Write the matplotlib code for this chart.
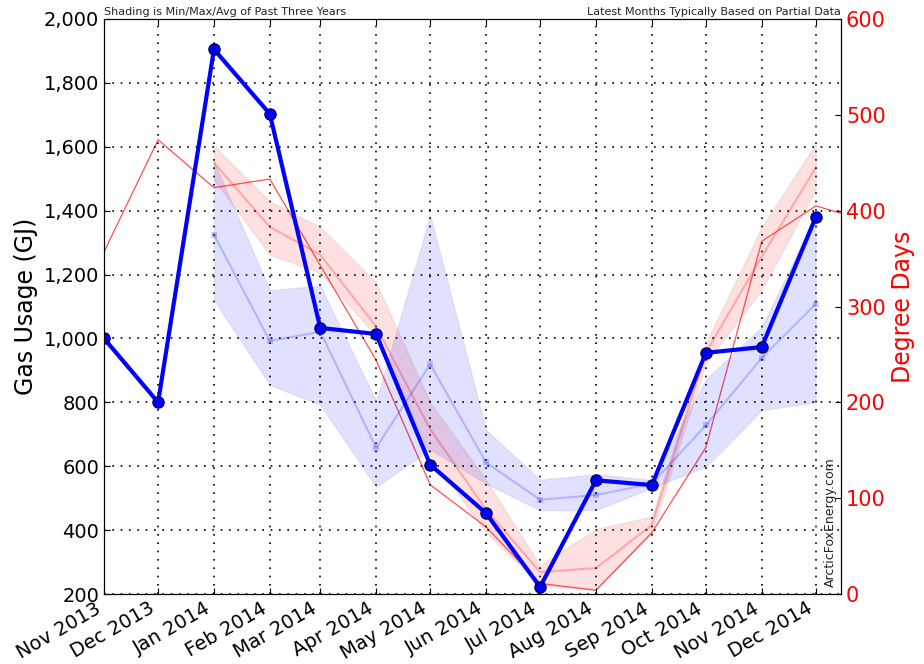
import datetime as dt

import matplotlib
matplotlib.use("Agg")
import matplotlib.pyplot as plt
import matplotlib.dates as mdates
from matplotlib.ticker import FuncFormatter, MultipleLocator

# --------------------------------------------------
# Data
# --------------------------------------------------
month_labels = ["Nov 2013", "Dec 2013", "Jan 2014", "Feb 2014", "Mar 2014", "Apr 2014",
                "May 2014", "Jun 2014", "Jul 2014", "Aug 2014", "Sep 2014", "Oct 2014",
                "Nov 2014", "Dec 2014"]
months = [dt.datetime.strptime(m, "%b %Y") for m in month_labels]

# gas usage (GJ), Nov 2013 - Dec 2014
usage = [1000, 800, 1905, 1703, 1033, 1014, 605, 453, 222, 556, 541, 955, 973, 1380]

# past three years usage stats, Jan 2014 - Dec 2014
usage_avg = [1325, 992, 1021, 658, 919, 612, 495, 510, 545, 728, 939, 1108]
usage_min = [1120, 854, 792, 535, 652, 545, 462, 462, 532, 598, 775, 800]
usage_max = [1555, 1152, 1165, 805, 1387, 714, 558, 576, 557, 872, 1037, 1386]

# degree days, Nov 2013 - Jan 2015 (last point is cut off by the axis)
dd_months = months + [dt.datetime(2015, 1, 1)]
degree_days = [357, 474, 424, 433, 343, 244, 114, 70, 11, 4, 64, 153, 368, 405, 388]

# past three years degree day stats, Jan 2014 - Dec 2014
dd_avg = [450, 383, 354, 279, 172, 88, 23, 27, 72, 252, 352, 445]
dd_min = [432, 354, 335, 269, 145, 64, 9, 4, 64, 241, 317, 422]
dd_max = [468, 410, 383, 325, 200, 119, 30, 68, 81, 262, 383, 470]


def main():
    fig = plt.figure(figsize=(9.24, 6.64), dpi=100)
    ax1 = fig.add_axes([0.1126, 0.1054, 0.7976, 0.866])
    ax2 = ax1.twinx()

    stat_months = months[2:]

    # --------------------------------------------------
    # Degree days (right axis)
    # --------------------------------------------------
    ax2.fill_between(stat_months, dd_min, dd_max, facecolor="red", alpha=0.12,
                     edgecolor="grey", linewidth=1)
    ax2.plot(stat_months, dd_avg, color="red", alpha=0.25, linewidth=1.5)
    ax2.plot(dd_months, degree_days, color="#ff3030", linewidth=0.9, alpha=0.85)

    # --------------------------------------------------
    # Gas usage (left axis)
    # --------------------------------------------------
    ax1.fill_between(stat_months, usage_min, usage_max, facecolor="blue", alpha=0.12,
                     edgecolor="grey", linewidth=1)
    ax1.plot(stat_months, usage_avg, color="blue", alpha=0.2, linewidth=1.5,
             marker="s", markersize=5, markeredgewidth=0)
    ax1.plot(months, usage, color="blue", linewidth=3, marker="o", markersize=8,
             markerfacecolor="blue", markeredgecolor="#000060", markeredgewidth=1)

    ax1.set_zorder(ax2.get_zorder() + 1)
    ax1.patch.set_visible(False)

    # --------------------------------------------------
    # Axes, ticks, grid
    # --------------------------------------------------
    ax1.set_xlim(dt.datetime(2013, 11, 1), dt.datetime(2014, 12, 15))
    ax1.set_ylim(200, 2000)
    ax2.set_ylim(0, 600)

    ax1.xaxis.set_major_locator(mdates.MonthLocator())
    ax1.xaxis.set_major_formatter(mdates.DateFormatter("%b %Y"))
    ax1.yaxis.set_major_locator(MultipleLocator(200))
    ax1.yaxis.set_major_formatter(FuncFormatter(lambda v, p: "{:,.0f}".format(v)))
    ax2.yaxis.set_major_locator(MultipleLocator(100))

    for lab in ax1.get_xticklabels():
        lab.set_rotation(30)
        lab.set_ha("right")
        lab.set_fontsize(14)

    ax1.tick_params(axis="both", direction="in", length=4, labelsize=14, top=True)
    ax2.tick_params(axis="y", direction="in", length=4, labelsize=15, colors="red")
    ax2.spines["right"].set_color("black")
    ax2.tick_params(axis="y", color="black")

    ax1.grid(True, color="black", linestyle=(0, (1, 4)), linewidth=1.2)

    ax1.set_ylabel("Gas Usage (GJ)", fontsize=17)
    ax2.set_ylabel("Degree Days", fontsize=17, color="red")

    # --------------------------------------------------
    # Annotations
    # --------------------------------------------------
    ax1.text(0.0, 1.004, "Shading is Min/Max/Avg of Past Three Years", transform=ax1.transAxes,
             fontsize=8, ha="left", va="bottom", color="#222222")
    ax1.text(1.0, 1.004, "Latest Months Typically Based on Partial Data", transform=ax1.transAxes,
             fontsize=8, ha="right", va="bottom", color="#222222")
    ax1.text(0.986, 0.012, "ArcticFoxEnergy.com", transform=ax1.transAxes, rotation=90,
             fontsize=9, ha="center", va="bottom", color="#222222")

    plt.savefig("out.png", dpi=100)


if __name__ == "__main__":
    main()
